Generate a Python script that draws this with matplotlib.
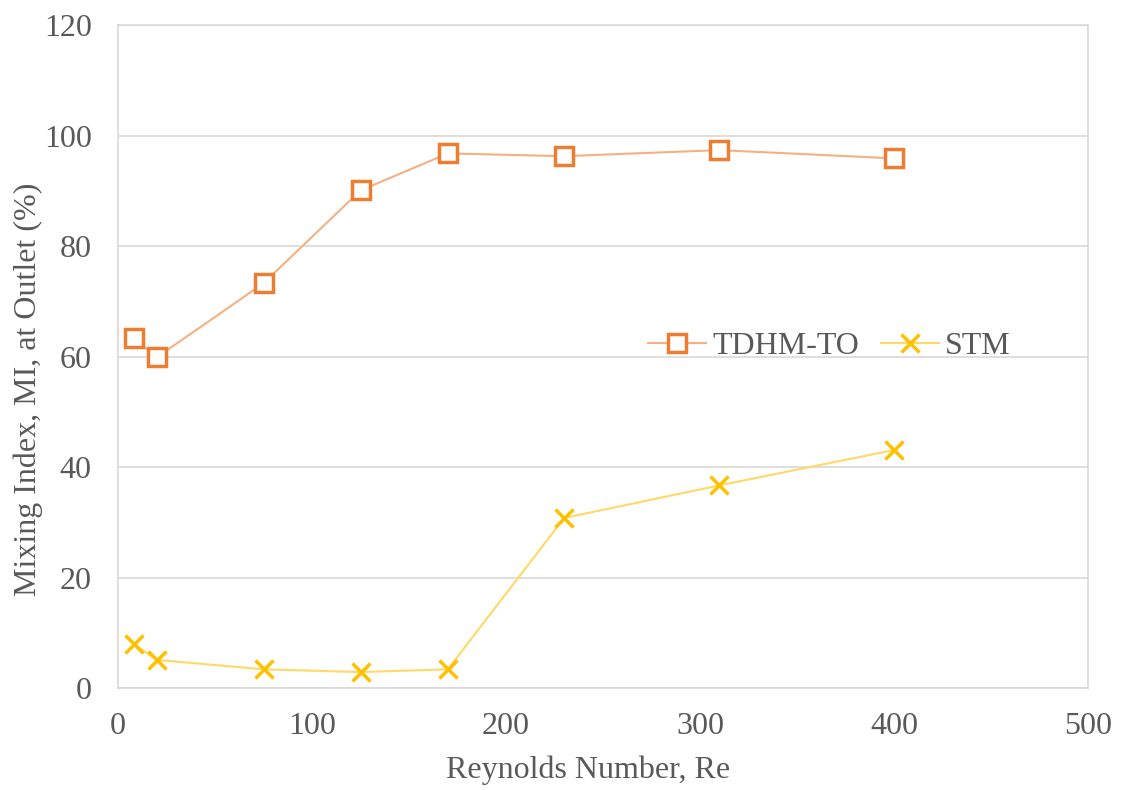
import matplotlib
matplotlib.use("Agg")
import matplotlib.pyplot as plt

re_values = [8, 20, 75, 125, 170, 230, 310, 400]
tdhm_to = [63.3, 59.9, 73.3, 90.1, 96.8, 96.3, 97.4, 95.9]
stm = [8.0, 5.1, 3.4, 2.9, 3.4, 30.8, 36.7, 43.1]

plt.rcParams["font.family"] = ["Liberation Serif", "DejaVu Serif"]
text_color = "#595959"
grid_color = "#D9D9D9"

fig = plt.figure(figsize=(11.25, 7.9), dpi=100)
ax = fig.add_axes([0.105, 0.129, 0.862, 0.839])

ax.plot(re_values, tdhm_to, color="#F4B183", lw=1.5, marker="s", ms=13,
        mfc="white", mec="#ED7D31", mew=2.5, label="TDHM-TO")
ax.plot(re_values, stm, color="#FFD966", lw=1.5, marker="x", ms=13,
        mec="#FFC000", mew=2.5, label="STM")

ax.set_xlim(0, 500)
ax.set_ylim(0, 120)
ax.set_xticks(range(0, 501, 100))
ax.set_yticks(range(0, 121, 20))
ax.yaxis.grid(True, color=grid_color, lw=1.2)
ax.set_axisbelow(True)
for s in ax.spines.values():
    s.set_color(grid_color)
    s.set_linewidth(1.2)
ax.tick_params(length=0, labelsize=23, colors=text_color)
ax.tick_params(axis="x", pad=17)
ax.tick_params(axis="y", pad=19)

# axis titles placed like the original (slightly off-centre)
fig.text(588 / 1125, 1 - 770 / 790, "Reynolds Number, Re", fontsize=23,
         color=text_color, ha="center", va="center")
fig.text(28 / 1125, 1 - 389 / 790, "Mixing Index, MI, at Outlet (%)", fontsize=23,
         color=text_color, ha="center", va="center", rotation=90)

ax.legend(loc="center left", bbox_to_anchor=(0.517, 0.515), ncol=2, frameon=False,
          fontsize=23, labelcolor=text_color, handlelength=1.8, handletextpad=0.2,
          columnspacing=0.7)

fig.savefig("out.png", dpi=100)
